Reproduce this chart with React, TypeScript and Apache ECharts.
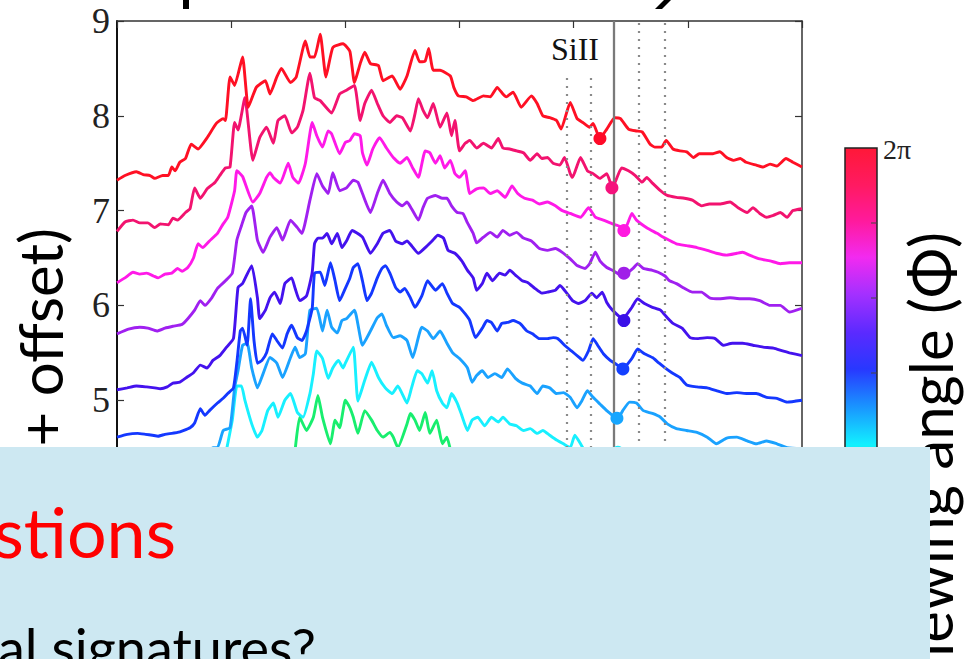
import React, { useEffect, useRef } from "react";
import * as echarts from "echarts";

// Wavelength (Å) vs flux (+ offset)
const xTicks = [2000, 3000, 4000, 5000, 6000, 7000, 8000];
const yTicks = [4, 5, 6, 7, 8, 9];

const specRed = [[2000,7.32],[2070,7.37],[2170,7.41],[2230,7.38],[2290,7.37],[2330,7.34],[2400,7.37],[2450,7.37],[2480,7.46],[2510,7.42],[2550,7.51],[2600,7.55],[2650,7.70],[2710,7.65],[2790,7.77],[2870,7.92],[2930,7.97],[2950,7.95],[2990,8.41],[3030,8.32],[3100,8.62],[3150,8.09],[3220,8.30],[3300,8.37],[3340,8.23],[3400,8.41],[3440,8.50],[3520,8.35],[3570,8.41],[3650,8.79],[3690,8.62],[3730,8.62],[3780,8.86],[3830,8.41],[3890,8.72],[3980,8.76],[4040,8.68],[4080,8.35],[4130,8.55],[4170,8.67],[4220,8.55],[4290,8.53],[4330,8.37],[4410,8.42],[4480,8.28],[4540,8.42],[4610,8.69],[4650,8.57],[4700,8.58],[4730,8.71],[4770,8.48],[4830,8.48],[4920,8.42],[4950,8.30],[4990,8.21],[5060,8.20],[5120,8.16],[5210,8.21],[5270,8.20],[5330,8.30],[5380,8.23],[5410,8.20],[5470,8.25],[5540,8.09],[5630,8.21],[5680,8.13],[5730,8.00],[5790,7.98],[5850,7.95],[5890,7.86],[5970,8.14],[6030,7.97],[6080,7.93],[6140,7.88],[6170,7.92],[6230,7.76],[6290,7.86],[6360,7.98],[6410,7.97],[6480,7.86],[6550,7.84],[6600,7.83],[6670,7.70],[6710,7.67],[6770,7.67],[6810,7.74],[6870,7.65],[6930,7.63],[6990,7.62],[7050,7.56],[7100,7.60],[7220,7.60],[7280,7.62],[7340,7.56],[7400,7.53],[7460,7.55],[7510,7.51],[7600,7.48],[7660,7.46],[7720,7.49],[7780,7.47],[7860,7.55],[7920,7.51],[8000,7.46]];

const specPink = [[2000,6.78],[2070,6.88],[2140,6.90],[2200,6.87],[2270,6.87],[2330,6.82],[2380,6.86],[2450,6.85],[2490,6.92],[2530,6.90],[2600,6.98],[2640,7.02],[2680,7.24],[2730,7.13],[2790,7.23],[2860,7.30],[2900,7.37],[2950,7.45],[2990,7.46],[3030,7.93],[3060,7.85],[3120,8.19],[3190,7.53],[3250,7.77],[3310,7.88],[3370,7.71],[3410,7.95],[3470,8.00],[3530,7.82],[3580,7.88],[3630,8.06],[3690,8.45],[3730,8.19],[3780,8.16],[3880,8.03],[3950,8.23],[4010,8.27],[4080,8.32],[4130,7.95],[4170,8.13],[4230,8.27],[4280,8.13],[4330,8.00],[4390,7.93],[4450,8.00],[4500,7.98],[4570,7.84],[4610,8.02],[4640,8.18],[4680,8.06],[4720,7.98],[4770,8.13],[4830,7.88],[4890,8.03],[4930,7.79],[4960,7.95],[5000,7.63],[5050,7.71],[5090,7.74],[5150,7.66],[5210,7.71],[5280,7.66],[5340,7.76],[5380,7.66],[5440,7.65],[5500,7.63],[5560,7.61],[5620,7.53],[5680,7.60],[5720,7.55],[5770,7.56],[5820,7.50],[5880,7.48],[5920,7.56],[5970,7.39],[5990,7.35],[6060,7.56],[6120,7.42],[6170,7.39],[6230,7.34],[6290,7.39],[6340,7.24],[6420,7.45],[6480,7.42],[6540,7.37],[6600,7.30],[6640,7.35],[6690,7.29],[6760,7.21],[6820,7.16],[6900,7.14],[6970,7.13],[7040,7.11],[7120,7.05],[7190,7.07],[7280,7.07],[7370,7.09],[7440,7.03],[7520,6.98],[7570,7.03],[7630,6.97],[7690,6.93],[7750,6.95],[7810,6.98],[7870,6.93],[7920,7.00],[8000,7.02]];

const specMagenta = [[2000,6.24],[2070,6.29],[2140,6.35],[2200,6.33],[2260,6.34],[2320,6.31],[2360,6.29],[2420,6.33],[2480,6.34],[2530,6.39],[2570,6.36],[2620,6.40],[2670,6.50],[2710,6.65],[2750,6.61],[2810,6.68],[2880,6.76],[2930,6.86],[2970,6.93],[3030,7.21],[3050,7.42],[3100,7.36],[3190,7.09],[3250,7.18],[3310,7.35],[3340,7.40],[3370,7.35],[3430,7.29],[3500,7.50],[3540,7.35],[3590,7.29],[3650,7.50],[3710,7.93],[3750,7.79],[3800,7.67],[3850,7.84],[3880,7.81],[3950,7.60],[4000,7.72],[4040,7.74],[4080,7.81],[4130,7.79],[4150,7.61],[4190,7.48],[4240,7.65],[4300,7.77],[4360,7.66],[4420,7.56],[4480,7.50],[4540,7.56],[4590,7.45],[4640,7.35],[4700,7.63],[4740,7.61],[4790,7.50],[4830,7.58],[4870,7.45],[4920,7.53],[4960,7.39],[5000,7.35],[5050,7.42],[5090,7.18],[5150,7.23],[5210,7.24],[5270,7.18],[5330,7.21],[5400,7.14],[5460,7.26],[5510,7.18],[5570,7.13],[5640,7.11],[5700,7.07],[5770,7.09],[5840,7.05],[5900,7.00],[5970,6.97],[6060,6.93],[6130,7.03],[6190,6.93],[6260,6.90],[6340,6.86],[6390,6.84],[6450,6.81],[6510,6.97],[6550,6.90],[6640,6.82],[6730,6.76],[6800,6.71],[6900,6.65],[6990,6.63],[7080,6.61],[7170,6.58],[7250,6.55],[7340,6.53],[7430,6.55],[7480,6.56],[7540,6.53],[7630,6.49],[7720,6.47],[7810,6.44],[7890,6.45],[8000,6.45]];

const specPurple = [[2000,5.70],[2100,5.75],[2200,5.77],[2270,5.76],[2350,5.73],[2420,5.76],[2490,5.78],[2570,5.80],[2620,5.86],[2680,5.95],[2730,6.05],[2770,6.00],[2830,6.08],[2880,6.18],[2950,6.26],[3010,6.34],[3050,6.69],[3090,6.84],[3130,6.98],[3180,7.05],[3230,6.69],[3280,6.56],[3340,6.72],[3400,6.82],[3450,6.69],[3520,6.90],[3580,6.82],[3620,6.76],[3690,7.11],[3750,7.39],[3800,7.26],[3850,7.18],[3890,7.40],[3950,7.21],[4010,7.24],[4070,7.32],[4110,7.30],[4150,7.18],[4220,6.98],[4280,7.18],[4330,7.32],[4390,7.18],[4450,7.09],[4500,7.05],[4540,7.09],[4580,7.02],[4640,6.90],[4680,7.03],[4720,7.13],[4790,7.16],[4850,7.13],[4890,7.13],[4930,7.05],[4980,6.98],[5030,6.97],[5070,6.87],[5120,6.76],[5150,6.66],[5210,6.72],[5270,6.77],[5330,6.72],[5380,6.79],[5440,6.74],[5500,6.77],[5560,6.71],[5630,6.68],[5700,6.60],[5770,6.58],[5840,6.60],[5900,6.56],[5970,6.49],[6030,6.42],[6100,6.39],[6140,6.44],[6190,6.56],[6230,6.47],[6290,6.40],[6340,6.37],[6430,6.31],[6520,6.39],[6560,6.44],[6610,6.39],[6690,6.37],[6740,6.35],[6800,6.31],[6840,6.26],[6900,6.23],[6970,6.18],[7040,6.14],[7120,6.14],[7190,6.08],[7280,6.07],[7370,6.08],[7460,6.07],[7540,6.07],[7630,6.05],[7720,6.00],[7810,6.00],[7890,5.93],[8000,5.97]];

const specViolet = [[2000,5.11],[2090,5.13],[2170,5.15],[2260,5.14],[2330,5.13],[2380,5.12],[2440,5.14],[2490,5.18],[2550,5.19],[2610,5.24],[2670,5.29],[2730,5.37],[2790,5.34],[2840,5.42],[2900,5.47],[2960,5.56],[3020,5.65],[3060,6.19],[3100,6.23],[3180,6.42],[3230,6.08],[3250,5.86],[3300,5.95],[3340,6.08],[3380,6.14],[3430,6.02],[3470,6.23],[3530,6.29],[3560,6.18],[3600,6.05],[3660,6.10],[3710,6.35],[3730,6.65],[3760,6.71],[3800,6.71],[3840,6.76],[3880,6.65],[3930,6.76],[3970,6.61],[4010,6.68],[4060,6.79],[4150,6.72],[4220,6.55],[4280,6.65],[4330,6.76],[4390,6.79],[4440,6.68],[4500,6.65],[4540,6.68],[4580,6.63],[4640,6.55],[4700,6.61],[4760,6.68],[4810,6.74],[4860,6.71],[4900,6.58],[4960,6.55],[5020,6.47],[5070,6.37],[5120,6.29],[5150,6.16],[5200,6.23],[5240,6.34],[5290,6.26],[5350,6.34],[5400,6.32],[5440,6.37],[5490,6.32],[5550,6.26],[5600,6.24],[5660,6.18],[5720,6.13],[5770,6.14],[5840,6.16],[5880,6.21],[5940,6.13],[5990,6.05],[6040,6.02],[6100,6.05],[6160,6.13],[6200,6.08],[6250,6.14],[6290,6.03],[6340,5.95],[6430,5.86],[6510,5.98],[6560,6.07],[6620,6.02],[6690,5.98],[6760,5.95],[6820,5.87],[6870,5.81],[6950,5.76],[7020,5.66],[7090,5.65],[7170,5.66],[7240,5.65],[7310,5.58],[7390,5.60],[7480,5.60],[7570,5.58],[7660,5.56],[7750,5.55],[7830,5.52],[7890,5.50],[8000,5.47]];

const specBlue = [[2000,4.61],[2090,4.64],[2180,4.65],[2250,4.64],[2310,4.63],[2360,4.62],[2420,4.64],[2480,4.65],[2530,4.66],[2580,4.68],[2640,4.71],[2680,4.76],[2730,4.91],[2770,4.84],[2810,4.89],[2880,4.97],[2930,5.02],[2970,5.07],[3020,5.13],[3050,5.40],[3080,5.73],[3100,5.76],[3140,5.58],[3170,6.07],[3200,5.63],[3230,5.39],[3270,5.42],[3310,5.50],[3360,5.70],[3400,5.63],[3450,5.55],[3490,5.70],[3530,5.79],[3580,5.66],[3620,5.63],[3660,5.73],[3710,5.97],[3730,6.34],[3780,6.35],[3820,6.21],[3870,6.45],[3910,6.26],[3950,6.05],[4000,6.18],[4040,6.29],[4070,6.40],[4110,6.44],[4150,6.26],[4190,6.05],[4230,6.13],[4280,6.29],[4320,6.39],[4350,6.42],[4390,6.34],[4440,6.19],[4480,6.14],[4520,6.18],[4570,6.08],[4610,5.98],[4670,6.10],[4720,6.26],[4790,6.16],[4850,6.23],[4890,6.13],[4940,6.02],[5000,5.98],[5050,5.91],[5090,5.84],[5140,5.66],[5200,5.76],[5240,5.84],[5280,5.82],[5330,5.73],[5370,5.81],[5420,5.82],[5470,5.84],[5530,5.81],[5590,5.73],[5640,5.70],[5700,5.65],[5770,5.65],[5820,5.66],[5860,5.65],[5920,5.58],[5980,5.52],[6040,5.46],[6080,5.42],[6130,5.52],[6170,5.65],[6210,5.58],[6260,5.49],[6320,5.42],[6360,5.39],[6430,5.33],[6510,5.44],[6560,5.54],[6620,5.49],[6690,5.45],[6740,5.40],[6800,5.34],[6860,5.29],[6930,5.24],[6990,5.16],[7080,5.14],[7170,5.13],[7250,5.10],[7340,5.07],[7430,5.08],[7520,5.07],[7600,5.07],[7690,5.03],[7780,5.02],[7870,4.98],[8000,5.00]];

const specAzure = [[2000,4.05],[2730,4.36],[2840,4.50],[2880,4.50],[2930,4.68],[2990,4.71],[3030,5.13],[3060,5.31],[3100,5.58],[3140,5.60],[3180,5.34],[3230,5.13],[3280,5.28],[3340,5.45],[3400,5.39],[3450,5.24],[3520,5.45],[3560,5.56],[3600,5.45],[3650,5.49],[3690,5.95],[3750,5.97],[3800,5.73],[3840,5.95],[3880,5.77],[3930,5.71],[3970,5.84],[4010,5.86],[4080,5.95],[4150,5.58],[4220,5.73],[4280,5.87],[4320,5.91],[4360,5.79],[4420,5.66],[4480,5.68],[4540,5.63],[4590,5.45],[4670,5.77],[4720,5.73],[4770,5.65],[4830,5.73],[4890,5.60],[4940,5.50],[5000,5.44],[5070,5.34],[5110,5.19],[5150,5.26],[5200,5.31],[5250,5.24],[5310,5.28],[5370,5.24],[5420,5.33],[5490,5.23],[5550,5.18],[5620,5.15],[5680,5.07],[5730,5.15],[5790,5.13],[5850,5.07],[5910,5.08],[5970,5.03],[6030,4.92],[6070,4.99],[6120,5.10],[6170,5.03],[6230,4.96],[6290,4.89],[6340,4.84],[6380,4.79],[6430,4.89],[6490,4.98],[6550,4.97],[6610,4.89],[6690,4.86],[6760,4.82],[6820,4.75],[6900,4.70],[6990,4.68],[7080,4.66],[7170,4.61],[7250,4.54],[7340,4.60],[7430,4.61],[7520,4.57],[7600,4.54],[7690,4.57],[7780,4.54],[7870,4.50],[8000,4.49]];

const specCyan = [[2950,4.42],[3010,4.79],[3050,5.15],[3090,5.15],[3120,5.00],[3180,4.75],[3230,4.61],[3270,4.68],[3320,4.89],[3370,4.97],[3410,4.82],[3470,5.00],[3520,5.07],[3580,4.87],[3630,4.82],[3690,5.07],[3720,5.28],[3750,5.52],[3800,5.44],[3850,5.23],[3890,5.34],[3940,5.42],[3980,5.34],[4000,5.39],[4070,5.56],[4110,4.99],[4170,5.21],[4230,5.40],[4290,5.24],[4350,5.13],[4410,5.07],[4460,5.15],[4540,4.97],[4580,5.13],[4630,5.31],[4670,5.28],[4720,5.18],[4760,5.31],[4800,5.10],[4850,4.97],[4890,4.92],[4930,5.07],[4980,4.97],[5020,4.84],[5070,4.68],[5110,4.79],[5160,4.82],[5220,4.73],[5280,4.82],[5340,4.77],[5380,4.82],[5440,4.75],[5500,4.73],[5560,4.68],[5620,4.70],[5680,4.65],[5730,4.68],[5790,4.63],[5850,4.58],[5910,4.54],[5970,4.50],[6010,4.63],[6060,4.54],[6140,4.37]];

const specGreen = [[3560,4.47],[3600,4.82],[3660,4.68],[3720,4.82],[3760,5.05],[3800,4.82],[3870,4.54],[3910,4.79],[3950,4.71],[4000,5.00],[4040,4.92],[4070,4.82],[4110,4.65],[4170,4.89],[4230,4.79],[4280,4.68],[4330,4.61],[4390,4.66],[4420,4.61],[4460,4.50],[4540,4.75],[4570,4.86],[4610,4.79],[4650,4.68],[4700,4.87],[4740,4.65],[4800,4.79],[4850,4.54],[4890,4.61],[4930,4.42]];

const spectra = [specGreen, specCyan, specAzure, specBlue, specViolet, specPurple, specMagenta, specPink, specRed];
const spectraColors = ["#18ee6e", "#18f0ff", "#1aa2ff", "#1438ff", "#4412ee", "#a020f0", "#ff19e8", "#f2136f", "#ff1024"];

// SiII absorption minima (dots)
const dotLambda = [6230, 6335, 6440, 6440, 6440, 6431, 6379, 6387];
const dotFlux = [7.76, 7.24, 6.79, 6.34, 5.84, 5.33, 4.81, 4.45];
const dotColors = ["#ff0a28", "#f5127c", "#ff19e0", "#a020e8", "#3a10e8", "#1440ff", "#16a6ff", "#18f0ff"];

// reference lines (Å)
const siiLine = 6355;
const dottedNear = [5940, 6150];
const dottedFar = [6570, 6800];

export default function App() {
  const ref = useRef<HTMLDivElement>(null);
  useEffect(() => {
    if (!ref.current) return;
    const chart = echarts.init(ref.current, null, { renderer: "svg" });

    const axisCommon = {
      type: "value" as const,
      splitLine: { show: false },
      axisLabel: { show: false },
    };

    const lineSeries = spectra.map((d, i) => ({
      type: "line",
      data: d,
      symbol: "none",
      showSymbol: false,
      smooth: 0.15,
      lineStyle: { color: spectraColors[i], width: 2.9 },
      z: 3 + i * 0.01,
      silent: true,
    }));

    const markData: any[] = [];
    markData.push([
      { coord: [siiLine, 9], lineStyle: { color: "#7a7a7a", width: 2.3, type: "solid" } },
      { coord: [siiLine, 4] },
    ]);
    dottedNear.forEach((l) =>
      markData.push([
        { coord: [l, 8.4], lineStyle: { color: "#8a8a8a", width: 2.2, type: [2, 6] } },
        { coord: [l, 4] },
      ])
    );
    dottedFar.forEach((l) =>
      markData.push([
        { coord: [l, 8.98], lineStyle: { color: "#8a8a8a", width: 2.2, type: [2, 6] } },
        { coord: [l, 4] },
      ])
    );

    const colorbarGrad = new echarts.graphic.LinearGradient(0, 0, 0, 1, [
      { offset: 0, color: "#ff1838" },
      { offset: 0.072, color: "#ff1a62" },
      { offset: 0.14, color: "#ff1a9c" },
      { offset: 0.21, color: "#f22af0" },
      { offset: 0.28, color: "#a530ff" },
      { offset: 0.356, color: "#5a2aff" },
      { offset: 0.425, color: "#2838ff" },
      { offset: 0.494, color: "#1a90ff" },
      { offset: 0.57, color: "#12f0ff" },
      { offset: 0.65, color: "#10f090" },
      { offset: 1, color: "#30ff30" },
    ]);

    chart.setOption({
      animation: false,
      backgroundColor: "#ffffff",
      grid: { left: 117, right: 163, top: 21, bottom: 164, containLabel: false },
      xAxis: [
        {
          ...axisCommon,
          min: xTicks[0],
          max: xTicks[xTicks.length - 1],
          interval: 1000,
          position: "bottom",
          axisLine: { show: true, onZero: false, lineStyle: { color: "#222", width: 1.5 } },
          axisTick: { show: true, inside: true, length: 7, lineStyle: { color: "#333", width: 1.2 } },
        },
        {
          ...axisCommon,
          min: xTicks[0],
          max: xTicks[xTicks.length - 1],
          interval: 1000,
          position: "top",
          axisLine: { show: true, onZero: false, lineStyle: { color: "#333", width: 1.5 } },
          axisTick: { show: true, inside: true, length: 7, lineStyle: { color: "#333", width: 1.2 } },
        },
      ],
      yAxis: [
        {
          type: "value",
          min: yTicks[0],
          max: yTicks[yTicks.length - 1],
          interval: 1,
          position: "left",
          splitLine: { show: false },
          axisLine: { show: true, onZero: false, lineStyle: { color: "#111", width: 2 } },
          axisTick: { show: true, inside: true, length: 7, lineStyle: { color: "#333", width: 1.2 } },
          axisLabel: { show: true, showMinLabel: false, fontFamily: "Liberation Serif", fontSize: 36, color: "#222", margin: 7 },
        },
        {
          type: "value",
          min: yTicks[0],
          max: yTicks[yTicks.length - 1],
          interval: 1,
          position: "right",
          splitLine: { show: false },
          axisLine: { show: true, onZero: false, lineStyle: { color: "#333", width: 1.5 } },
          axisTick: { show: true, inside: true, length: 7, lineStyle: { color: "#333", width: 1.2 } },
          axisLabel: { show: false },
        },
      ],
      series: [
        {
          type: "line",
          data: [],
          z: 1,
          silent: true,
          markLine: {
            silent: true,
            symbol: ["none", "none"],
            label: { show: false },
            animation: false,
            data: markData,
          },
        },
        ...lineSeries,
        {
          type: "scatter",
          symbolSize: 13,
          z: 5,
          silent: true,
          data: dotLambda.map((l, i) => ({
            value: [l, dotFlux[i]],
            itemStyle: { color: dotColors[i], opacity: 1 },
          })),
        },
      ],
      graphic: [
        // title remnants (descenders of cropped heading)
        { type: "rect", z: 10, shape: { x: 183, y: 0, width: 6, height: 9 }, style: { fill: "#000" } },
        { type: "polygon", z: 10, shape: { points: [[664, 0], [671, 0], [662, 9], [655, 9]] }, style: { fill: "#000" } },
        {
          type: "text",
          z: 10,
          x: 575,
          y: 49,
          style: { text: "SiII", fontFamily: "Liberation Serif", fontSize: 32, fill: "#111", textAlign: "center", textVerticalAlign: "middle" },
        },
        // colorbar
        {
          type: "rect",
          z: 20,
          shape: { x: 845, y: 148, width: 32, height: 520 },
          style: { fill: colorbarGrad, stroke: "#222", lineWidth: 1.5 },
        },
        ...[223, 298, 373].map((y) => ({
          type: "line",
          z: 21,
          shape: { x1: 871, y1: y, x2: 877, y2: y },
          style: { stroke: "#444", lineWidth: 1 },
        })),
        {
          type: "text",
          z: 21,
          x: 883,
          y: 149,
          style: { text: "2π", fontFamily: "Liberation Serif", fontSize: 28, fill: "#222", textAlign: "left", textVerticalAlign: "middle" },
        },
        // axis titles (rotated)
        {
          type: "text",
          z: 50,
          x: 40,
          y: 228,
          rotation: Math.PI / 2,
          style: { text: "(+ offset)", fontFamily: "Lato", fontSize: 60, fill: "#000", textAlign: "right", textVerticalAlign: "middle" },
        },
        {
          type: "text",
          z: 50,
          x: 930,
          y: 232,
          rotation: Math.PI / 2,
          style: { text: "viewing angle (Φ)", fontFamily: "Lato", fontSize: 60, fill: "#000", textAlign: "right", textVerticalAlign: "middle" },
        },
        // overlay box of the slide
        {
          type: "rect",
          z: 100,
          shape: { x: 0, y: 447, width: 930, height: 212 },
          style: { fill: "#cde8f2" },
        },
        {
          type: "text",
          z: 110,
          x: 176,
          y: 531,
          style: { text: "stions", fontFamily: "Lato", fontSize: 70, fill: "#ff0000", textAlign: "right", textVerticalAlign: "middle" },
        },
        {
          type: "text",
          z: 110,
          x: -2,
          y: 647,
          style: { text: "al signatures?", fontFamily: "Lato", fontSize: 54, fill: "#000", textAlign: "left", textVerticalAlign: "middle" },
        },
      ],
    });
    return () => chart.dispose();
  }, []);

  return (
    <div
      ref={ref}
      style={{ position: "fixed", left: 0, top: 0, width: 965, height: 659, background: "#fff" }}
    />
  );
}
